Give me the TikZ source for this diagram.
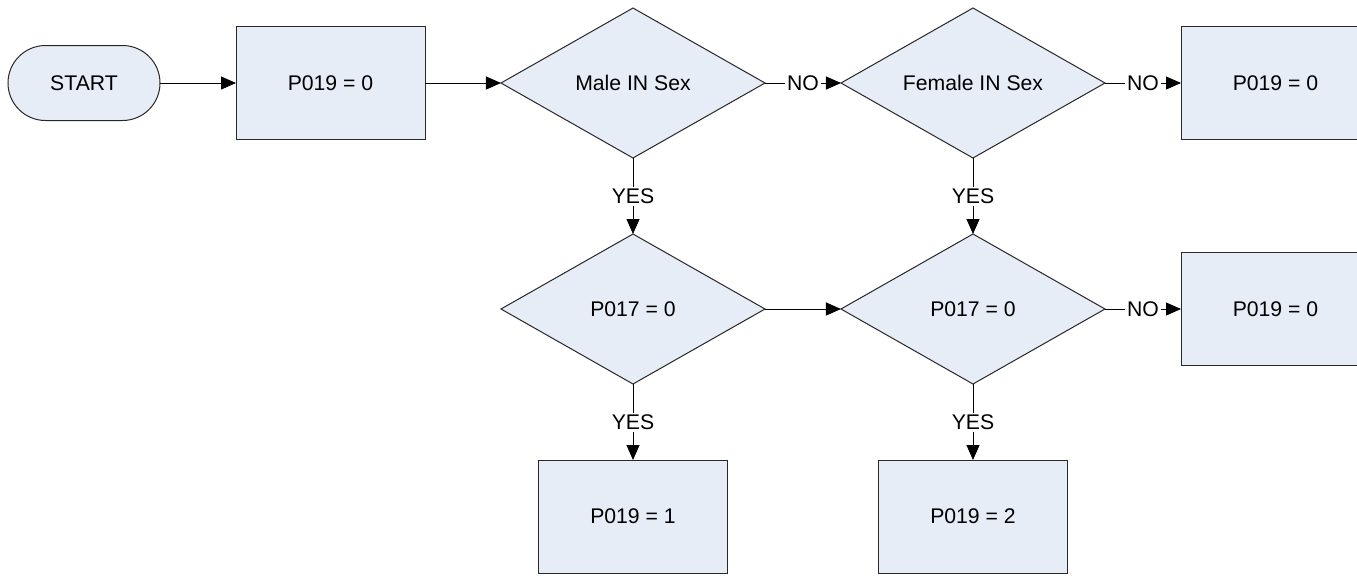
\documentclass[tikz,border=0pt]{standalone}
\usepackage{fontspec}
\setmainfont{Liberation Sans}
\usepackage{tikz}
\usetikzlibrary{shapes.geometric, arrows.meta, positioning}
\definecolor{paleblue}{RGB}{230, 237, 247}
\definecolor{edgegray}{RGB}{40, 40, 40}

\begin{document}
\begin{tikzpicture}[
        node distance = 38pt,
        terminal/.style = {draw=edgegray, line width=0.5pt, outer sep=0pt, fill=paleblue, rectangle, rounded corners=18.75pt, minimum width=76pt, minimum height=37.5pt, align=center, font=\fontsize{10.6pt}{12pt}\selectfont},
        assign/.style = {draw=edgegray, line width=0.5pt, outer sep=0pt, fill=paleblue, rectangle, minimum width=94.5pt, minimum height=56.5pt, align=center, font=\fontsize{10.6pt}{12pt}\selectfont},
        test/.style = {draw=edgegray, line width=0.5pt, outer sep=0pt, fill=paleblue, diamond, aspect=1.76, inner sep=0pt, minimum width=132pt, minimum height=75pt, align=center, font=\fontsize{10.6pt}{12pt}\selectfont},
        flow/.style = {line width=0.5pt, -{Triangle[length=7.5pt, width=6.5pt]}},
        answer/.style = {fill=white, inner sep=1pt, font=\fontsize{10.6pt}{12pt}\selectfont}
    ]
        \useasboundingbox (0,0) rectangle (678.5pt,-287.5pt);

        % Nodes
        \node [terminal] (start) at (42pt,-41.5pt) {START};
        \node [assign, right=of start] (init) {P019 = 0};
        \node [test, right=of init] (male) {Male IN Sex};
        \node [test, right=of male] (female) {Female IN Sex};
        \node [assign, right=of female] (nosex) {P019 = 0};
        \node [test, below=of male] (malecheck) {P017 = 0};
        \node [test, below=of female] (femalecheck) {P017 = 0};
        \node [assign, right=of femalecheck] (nocheck) {P019 = 0};
        \node [assign, below=of malecheck] (setmale) {P019 = 1};
        \node [assign, below=of femalecheck] (setfemale) {P019 = 2};

        % Connections
        \draw [flow] (start) -- (init);
        \draw [flow] (init) -- (male);
        \draw [flow] (male) -- node[answer] {NO} (female);
        \draw [flow] (female) -- node[answer] {NO} (nosex);
        \draw [flow] (male) -- node[answer] {YES} (malecheck);
        \draw [flow] (female) -- node[answer] {YES} (femalecheck);
        \draw [flow] (malecheck) -- (femalecheck);
        \draw [flow] (femalecheck) -- node[answer] {NO} (nocheck);
        \draw [flow] (malecheck) -- node[answer] {YES} (setmale);
        \draw [flow] (femalecheck) -- node[answer] {YES} (setfemale);
    \end{tikzpicture}
\end{document}
